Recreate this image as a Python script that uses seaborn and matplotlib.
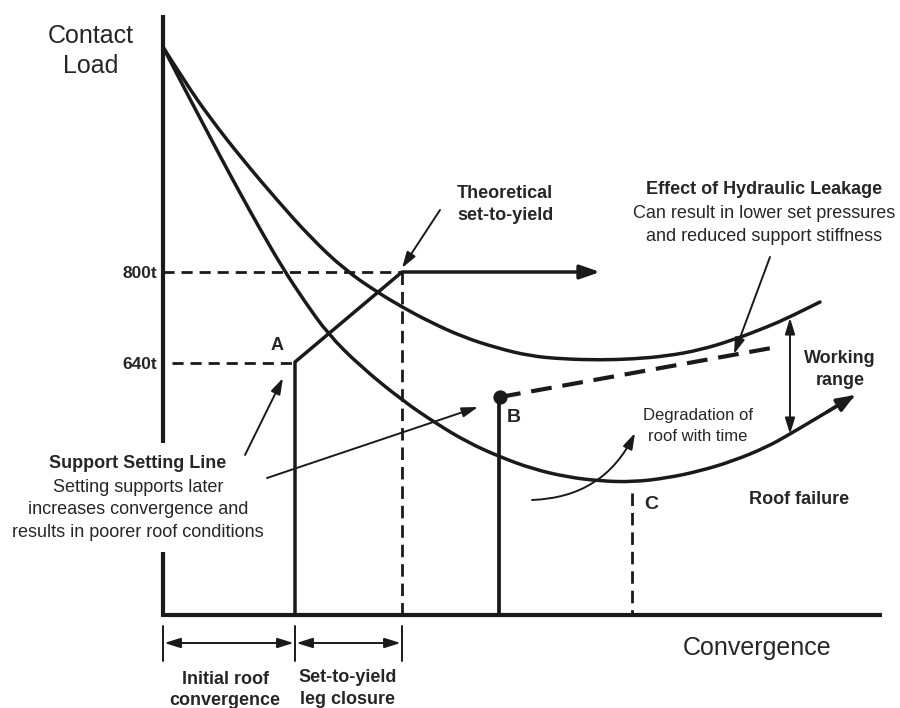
import matplotlib
matplotlib.use("Agg")
import matplotlib.pyplot as plt
from matplotlib.path import Path
from matplotlib.patches import PathPatch
import seaborn as sns

# Schematic, in picture units (x to the right, y downwards)
upper_x = [163, 185, 210, 243, 277, 310, 345, 377, 402, 430, 463, 497, 530, 563, 600, 633, 667, 700, 733, 767, 790, 820]
upper_y = [47, 82, 118, 160, 200, 237, 270, 292, 307, 322, 337, 348, 356, 359, 360, 359, 356, 350, 340, 327, 317, 302]

lower_x = [163, 180, 200, 220, 240, 260, 282, 305, 328, 360, 403, 437, 467, 500, 533, 567, 600, 633, 667, 700, 733, 767, 790, 817, 852]
lower_y = [47, 80, 118, 156, 193, 229, 267, 302, 334, 366, 401, 424, 442, 457, 469, 477, 481, 482, 478, 471, 461, 447, 434, 418, 397]

# support setting line A -> theoretical set-to-yield
setting_x = [295, 295, 402, 590]
setting_y = [615, 362, 272, 272]

# leakage line from B
leak_x = [500, 777]
leak_y = [397, 347]

load_labels = ['800t', '640t']
load_levels = [272, 363]

origin = (163, 615)
x_end = 882
y_top = 15
a_x, b_x, c_x, yield_x = 295, 499, 632, 402
c_top = 493


def smooth_curve(ax, xs, ys, lw):
    # quadratic B-spline through the read points, drawn by matplotlib's path renderer
    pts = list(zip(xs, ys))
    verts = [pts[0]]
    codes = [Path.MOVETO]
    for i in range(1, len(pts) - 1):
        if i == len(pts) - 2:
            end = pts[-1]
        else:
            end = ((pts[i][0] + pts[i + 1][0]) / 2, (pts[i][1] + pts[i + 1][1]) / 2)
        verts += [pts[i], end]
        codes += [Path.CURVE3, Path.CURVE3]
    ax.add_patch(PathPatch(Path(verts, codes), fill=False, lw=lw, edgecolor='k', capstyle='round'))


sns.set_theme(style='white')
plt.rcParams['font.family'] = ['Liberation Sans', 'DejaVu Sans']

fig = plt.figure(figsize=(9, 7.08), dpi=100)
ax = fig.add_axes([0, 0, 1, 1])
ax.set_xlim(0, 900)
ax.set_ylim(708, 0)
ax.axis('off')

# axes of the diagram (y axis broken behind the text block)
ax.plot([origin[0], origin[0]], [y_top, 443], color='k', lw=3, solid_capstyle='butt')
ax.plot([origin[0], origin[0]], [552, origin[1] + 1.5], color='k', lw=3, solid_capstyle='butt')
ax.plot([origin[0], x_end], [origin[1], origin[1]], color='k', lw=3, solid_capstyle='butt')

# ground reaction curves
smooth_curve(ax, upper_x, upper_y, 2.5)
smooth_curve(ax, lower_x, lower_y, 2.5)
ax.annotate('', xy=(lower_x[-1] + 3, lower_y[-1] - 2), xytext=(lower_x[-2] + 10, lower_y[-2] - 6),
            arrowprops=dict(arrowstyle='-|>,head_length=0.9,head_width=0.35', color='k', lw=2.5,
                            shrinkA=0, shrinkB=0))

# support line and set-to-yield
sns.lineplot(x=setting_x, y=setting_y, sort=False, estimator=None, color='k', lw=2.5, ax=ax)
ax.annotate('', xy=(600, 272), xytext=(setting_x[-1] - 5, 272),
            arrowprops=dict(arrowstyle='-|>,head_length=1.0,head_width=0.35', color='k', lw=2.5,
                            shrinkA=0, shrinkB=0))

# dashed guides
for lvl, lab in zip(load_levels, load_labels):
    x0 = origin[0] if lvl == load_levels[0] else 172
    x1 = yield_x if lvl == load_levels[0] else a_x
    ax.plot([x0, x1], [lvl, lvl], color='k', lw=2, dashes=(4, 2.5))
    ax.text(157, lvl + 6, lab, ha='right', va='baseline', fontsize=12.5, fontweight='bold')
ax.plot([yield_x, yield_x], [272, origin[1]], color='k', lw=2, dashes=(4.5, 2.5))
ax.plot([c_x, c_x], [c_top, origin[1]], color='k', lw=2, dashes=(4.5, 2.5))

# B support and leakage line
ax.plot([b_x, b_x], [leak_y[0], origin[1]], color='k', lw=2.7, solid_capstyle='butt')
sns.lineplot(x=leak_x, y=leak_y, sort=False, estimator=None, color='k', lw=3, dashes=False,
             ax=ax).lines[-1].set_dashes((5, 2.6))
sns.scatterplot(x=leak_x[:1], y=leak_y[:1], color='k', s=90, edgecolor='k', ax=ax, zorder=5)

# working range
ax.annotate('', xy=(790, 318), xytext=(790, 434),
            arrowprops=dict(arrowstyle='<|-|>,head_length=0.8,head_width=0.25', color='k', lw=1.4,
                            shrinkA=0, shrinkB=0))

thin = dict(arrowstyle='-|>,head_length=0.8,head_width=0.25', color='k', lw=1.4, shrinkA=0, shrinkB=0)
ax.annotate('', xy=(402, 268), xytext=(440, 210), arrowprops=thin)
ax.annotate('', xy=(734, 354), xytext=(770, 257), arrowprops=thin)
ax.annotate('', xy=(283, 378), xytext=(245, 455), arrowprops=thin)
ax.annotate('', xy=(478, 407), xytext=(267, 478), arrowprops=thin)
ax.annotate('', xy=(635, 433), xytext=(532, 500),
            arrowprops=dict(thin, connectionstyle='arc3,rad=0.3'))

# dimension marks below the axis
for xv in [origin[0], a_x, yield_x]:
    ax.plot([xv, xv], [626, 661], color='k', lw=1.4)
dim = dict(arrowstyle='<|-|>,head_length=0.8,head_width=0.25', color='k', lw=1.4, shrinkA=1, shrinkB=1)
ax.annotate('', xy=(origin[0], 643), xytext=(a_x, 643), arrowprops=dim)
ax.annotate('', xy=(a_x, 643), xytext=(yield_x, 643), arrowprops=dim)

# labels
ax.text(91, 43, 'Contact', ha='center', va='baseline', fontsize=18)
ax.text(91, 73, 'Load', ha='center', va='baseline', fontsize=18)
ax.text(757, 655, 'Convergence', ha='center', va='baseline', fontsize=18)

bold = dict(fontweight='bold', fontsize=13, va='baseline')
ax.text(277, 350, 'A', ha='center', **bold)
ax.text(514, 422, 'B', ha='center', fontsize=14, fontweight='bold', va='baseline')
ax.text(651, 509, 'C', ha='center', fontsize=14, fontweight='bold', va='baseline')

ax.text(457, 198, 'Theoretical', ha='left', **bold)
ax.text(457, 220, 'set-to-yield', ha='left', **bold)

ax.text(764, 194, 'Effect of Hydraulic Leakage', ha='center', **bold)
ax.text(764, 218, 'Can result in lower set pressures', ha='center', va='baseline', fontsize=13)
ax.text(764, 241, 'and reduced support stiffness', ha='center', va='baseline', fontsize=13)

ax.text(840, 363, 'Working', ha='center', **bold)
ax.text(840, 385, 'range', ha='center', **bold)

ax.text(698, 420, 'Degradation of', ha='center', va='baseline', fontsize=12)
ax.text(698, 441, 'roof with time', ha='center', va='baseline', fontsize=12)

ax.text(799, 504, 'Roof failure', ha='center', **bold)

ax.text(138, 468, 'Support Setting Line', ha='center', **bold)
ax.text(138, 492, 'Setting supports later', ha='center', va='baseline', fontsize=13)
ax.text(138, 514, 'increases convergence and', ha='center', va='baseline', fontsize=13)
ax.text(138, 537, 'results in poorer roof conditions', ha='center', va='baseline', fontsize=13)

ax.text(225, 684, 'Initial roof', ha='center', **bold)
ax.text(225, 705, 'convergence', ha='center', **bold)
ax.text(348, 682, 'Set-to-yield', ha='center', **bold)
ax.text(348, 704, 'leg closure', ha='center', **bold)

fig.savefig('out.png', dpi=100)
